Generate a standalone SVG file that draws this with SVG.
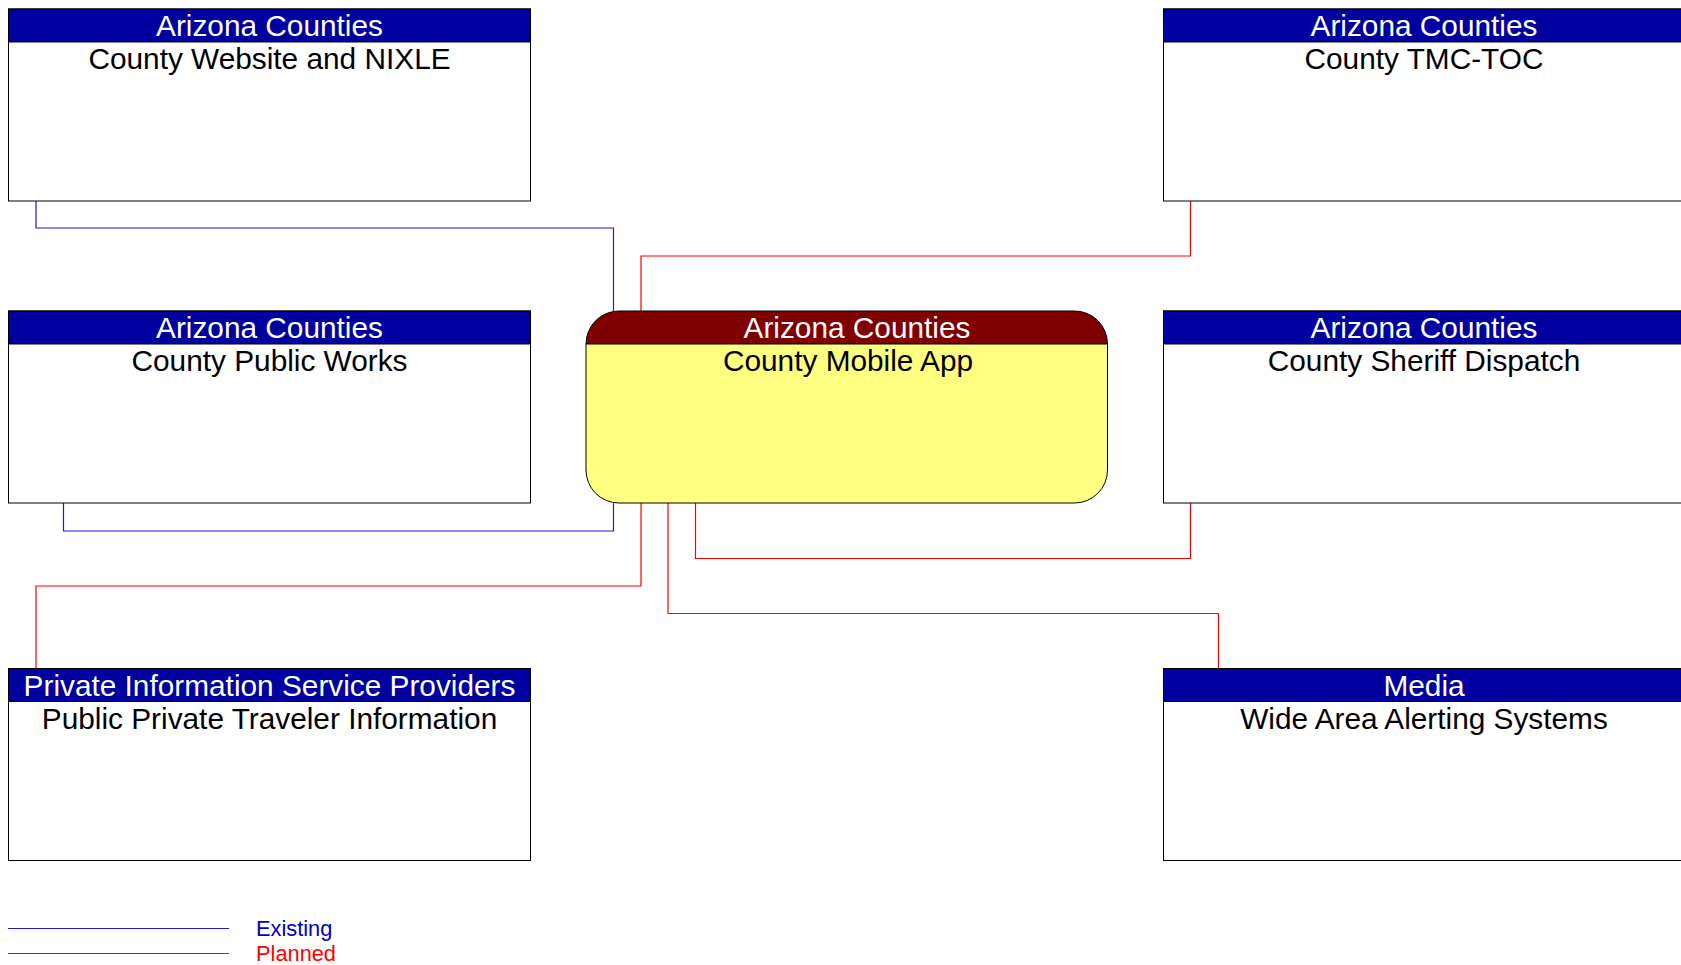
<svg xmlns="http://www.w3.org/2000/svg" width="1681" height="965" viewBox="0 0 1681 965">
<style>
.box{fill:#FFFFFF;stroke:#000000;stroke-width:1}
.hdr{fill:#0000A0;stroke:#000000;stroke-width:1}
.ht{font-family:"Liberation Sans",Arial,sans-serif;font-size:29.8px;fill:#FFFFFF;text-anchor:middle}
.bt{font-family:"Liberation Sans",Arial,sans-serif;font-size:29.8px;fill:#000000;text-anchor:middle}
.ex{fill:none;stroke:#1C1CD0;stroke-width:1.2}
.pl{fill:none;stroke:#FF0000;stroke-width:1.2}
.lg{font-family:"Liberation Sans",Arial,sans-serif;font-size:21.8px}
</style>
<rect width="1681" height="965" fill="#FFFFFF"/>
<g id="connectors">
<polyline class="ex" points="36,201 36,228 613.5,228 613.5,311"/>
<polyline class="pl" points="1190.5,201 1190.5,256 641,256 641,311"/>
<polyline class="ex" points="63.5,503 63.5,531 613.5,531 613.5,503"/>
<polyline class="pl" points="641,503 641,586 36,586 36,668"/>
<polyline class="pl" points="695.5,503 695.5,558.5 1190.5,558.5 1190.5,503"/>
<polyline class="pl" points="668,503 668,613.5 1218.5,613.5 1218.5,668"/>
</g>
<g id="node-website">
<rect class="box" x="8.5" y="9" width="522" height="192"/>
<rect class="hdr" x="8.5" y="9" width="522" height="33"/>
<text class="ht" x="269.5" y="36">Arizona Counties</text>
<text class="bt" x="269.5" y="69">County Website and NIXLE</text>
</g>
<g id="node-tmc">
<rect class="box" x="1163.5" y="9" width="522" height="192"/>
<rect class="hdr" x="1163.5" y="9" width="522" height="33"/>
<text class="ht" x="1424" y="36">Arizona Counties</text>
<text class="bt" x="1424" y="69">County TMC-TOC</text>
</g>
<g id="node-publicworks">
<rect class="box" x="8.5" y="311" width="522" height="192"/>
<rect class="hdr" x="8.5" y="311" width="522" height="33"/>
<text class="ht" x="269.5" y="338">Arizona Counties</text>
<text class="bt" x="269.5" y="371">County Public Works</text>
</g>
<g id="node-mobile">
<path d="M586,344 L586,344 A33,33 0 0 1 619,311 L1074.5,311 A33,33 0 0 1 1107.5,344 Z" fill="#800000" stroke="#000000" stroke-width="1"/>
<path d="M586,344 L1107.5,344 L1107.5,470 A33,33 0 0 1 1074.5,503 L619,503 A33,33 0 0 1 586,470 Z" fill="#FFFF80" stroke="#000000" stroke-width="1"/>
<text class="ht" x="857" y="338">Arizona Counties</text>
<text class="bt" x="848" y="371">County Mobile App</text>
</g>
<g id="node-sheriff">
<rect class="box" x="1163.5" y="311" width="522" height="192"/>
<rect class="hdr" x="1163.5" y="311" width="522" height="33"/>
<text class="ht" x="1424" y="338">Arizona Counties</text>
<text class="bt" x="1424" y="371">County Sheriff Dispatch</text>
</g>
<g id="node-pisp">
<rect class="box" x="8.5" y="668.5" width="522" height="192"/>
<rect class="hdr" x="8.5" y="668.5" width="522" height="33"/>
<text class="ht" x="269.5" y="695.5">Private Information Service Providers</text>
<text class="bt" x="269.5" y="728.5">Public Private Traveler Information</text>
</g>
<g id="node-media">
<rect class="box" x="1163.5" y="668.5" width="522" height="192"/>
<rect class="hdr" x="1163.5" y="668.5" width="522" height="33"/>
<text class="ht" x="1424" y="695.5">Media</text>
<text class="bt" x="1424" y="728.5">Wide Area Alerting Systems</text>
</g>
<g id="legend">
<line class="ex" x1="8" y1="928.5" x2="229" y2="928.5"/>
<line class="pl" x1="8" y1="953.5" x2="229" y2="953.5"/>
<text class="lg" x="256" y="936" fill="#0000CC">Existing</text>
<text class="lg" x="256" y="961" fill="#FF0000">Planned</text>
</g>
</svg>
